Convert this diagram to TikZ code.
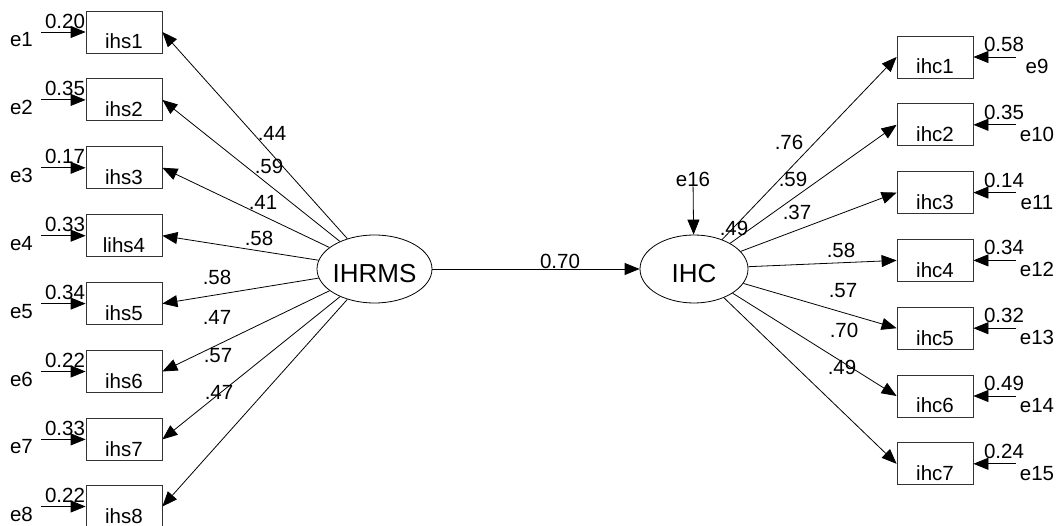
\documentclass[tikz,border=0pt]{standalone}
\usepackage{fontspec}
\setmainfont{Liberation Sans}
\usetikzlibrary{arrows.meta,shapes.geometric}
\begin{document}
\begin{tikzpicture}[x=1pt,y=-1pt,
  every node/.style={font=\fontsize{20.5}{24}\selectfont},
  obs/.style={draw=black!80, line width=0.8pt, rectangle, minimum width=76pt, inner sep=0pt, text height=38pt, text depth=4pt},
  lat/.style={draw, ellipse, line width=0.8pt, minimum width=#1, minimum height=68pt, inner sep=0pt, font=\fontsize{26}{30}\selectfont},
  lbl/.style={inner sep=0pt},
  arr/.style={line width=0.8pt, -{Triangle[length=15pt,width=12pt]}}]
\useasboundingbox (0,0) rectangle (1058,526);
% latent variables
\node[lat=115pt] (IHRMS) at (374.5,269) {\raisebox{-14pt}[0pt][0pt]{\makebox[0pt]{IHRMS}}};
\node[lat=108pt] (IHC) at (694,269) {\raisebox{-14pt}[0pt][0pt]{\makebox[0pt]{IHC}}};
\draw[arr] (IHRMS) -- (IHC);
\node[lbl] (p1) at (560,261) {0.70};
\node[lbl] (e16) at (693,179) {e16};
\draw[arr] (e16) -- (IHC);
\node[lbl] (r16) at (734,228) {.49};
% left indicators
\foreach \i/\y/\t/\v/\l/\lx/\ly in {
  1/32/ihs1/0.20/.44/272/133,
  2/99.9/ihs2/0.35/.59/269/166,
  3/167.8/ihs3/0.17/.41/263/202,
  4/235.7/lihs4/0.33/.58/259/238,
  5/303.6/ihs5/0.34/.58/217/277,
  6/371.5/ihs6/0.22/.47/217/317,
  7/439.4/ihs7/0.33/.57/218/356,
  8/506.5/ihs8/0.22/.47/219/392} {
  \node[obs] (ihs\i) at (124,\y) {\t};
  \coordinate (el\i) at (41,\y);
  \node[lbl] (e\i) at (21.5,\y+7.5) {e\i};
  \node[lbl] (rv\i) at (65,\y-11) {\v};
  \draw[arr] (el\i) -- (ihs\i);
  \draw[arr] (IHRMS) -- (ihs\i.east);
  \node[lbl] (ld\i) at (\lx,\ly) {\l};
}
% right indicators
\foreach \i/\y/\e/\v/\l/\lx/\ly in {
  1/57/e9/0.58/.76/789/142,
  2/124.8/e10/0.35/.59/793/179,
  3/192.6/e11/0.14/.37/797/212,
  4/260.4/e12/0.34/.58/841/250,
  5/328.2/e13/0.32/.57/843/291,
  6/396/e14/0.49/.70/844/330,
  7/463.8/e15/0.24/.49/842/367} {
  \node[obs] (ihc\i) at (935,\y) {ihc\i};
  \coordinate (er\i) at (1016,\y);
  \node[lbl] (\e) at (1037,\y+9.5) {\e};
  \node[lbl] (rc\i) at (1004,\y-12.5) {\v};
  \draw[arr] (er\i) -- (ihc\i);
  \draw[arr] (IHC) -- (ihc\i.west);
  \node[lbl] (lc\i) at (\lx,\ly) {\l};
}
\end{tikzpicture}
\end{document}
